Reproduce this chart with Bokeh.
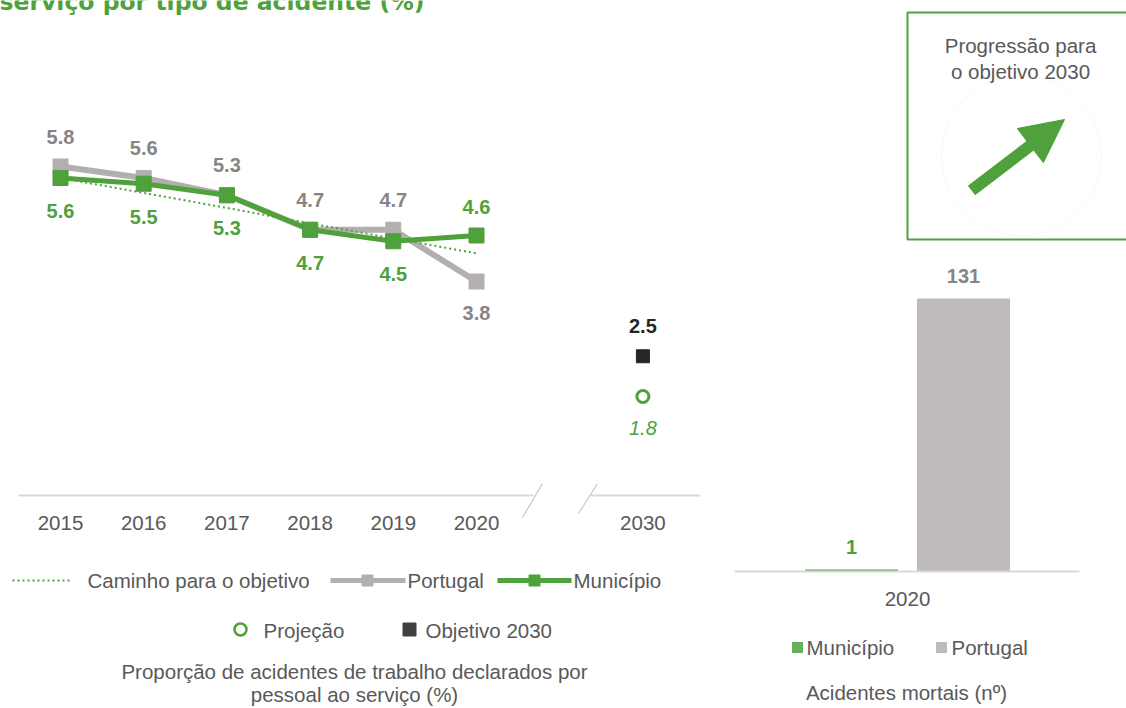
from bokeh.plotting import figure
from bokeh.models import Range1d, Arrow, NormalHead
from bokeh.core.properties import value
from bokeh.embed import file_html
from bokeh.resources import INLINE

# ---------------- data ----------------
years = ["2015", "2016", "2017", "2018", "2019", "2020"]
portugal = [5.8, 5.6, 5.3, 4.7, 4.7, 3.8]
municipio = [5.6, 5.5, 5.3, 4.7, 4.5, 4.6]
caminho = [5.6, 5.34, 5.08, 4.81, 4.55, 4.29]
target_year = "2030"
objetivo_2030 = 2.5
projecao_2030 = 1.8

bar_year = "2020"
bar_categories = ["Município", "Portugal"]
mortais = [1, 131]

title_text = "serviço por tipo de acidente (%)"

# ---------------- layout constants ----------------
W, H = 1126, 708
OX, OY = 0, 0
FONT = value("Liberation Sans")
GREEN = "#4ea13b"
GRAY_LINE = "#b3afae"
TXT = "#595959"
FS = "20.5px"
FSB = "20px"

p = figure(width=W, height=H, output_backend="svg", toolbar_location=None,
           x_range=Range1d(OX, OX + W), y_range=Range1d(OY + H, OY),
           min_border=0)
p.axis.visible = False
p.grid.visible = False
p.outline_line_color = None
p.background_fill_color = "white"
p.border_fill_color = "white"

# line chart scales (index -> px, value -> px)
LX0, LDX = 60, 83.2
LY0, LV0, LK = 166, 5.8, 57.5
def lv(img_y):
    return LV0 - (img_y - LY0) / LK
p.extra_x_ranges["lx"] = Range1d((OX - LX0) / LDX, (OX + W - LX0) / LDX)
p.extra_y_ranges["ly"] = Range1d(lv(OY + H), lv(OY))

# bar chart scales
BX0, BDX = 851, 112
BY0, BK = 571, 2.084
p.extra_x_ranges["bx"] = Range1d((OX - BX0) / BDX, (OX + W - BX0) / BDX)
p.extra_y_ranges["by"] = Range1d((BY0 - (OY + H)) / BK, (BY0 - OY) / BK)

idx = list(range(len(years)))
t_idx = len(years) + 1

# ---------------- title (cropped at the top, as in the source) ----------------
p.text(x=[-1], y=[1], text=[title_text], text_font=value("DejaVu Sans"),
       text_font_style="bold", text_font_size="23.5px", text_color=GREEN,
       text_baseline="alphabetic", text_align="left")

# ---------------- axis line with break ----------------
p.line(x=[18, 533], y=[495, 495], line_color="#d9d9d9", line_width=2)
p.line(x=[590, 700], y=[495, 495], line_color="#d9d9d9", line_width=2)
p.line(x=[542, 522], y=[483, 517], line_color="#c8c8c8", line_width=1.2)
p.line(x=[597, 578], y=[483, 513], line_color="#c8c8c8", line_width=1.2)

p.text(x=idx + [t_idx], y=[522] * (len(years) + 1), text=years + [target_year],
       x_range_name="lx", text_align="center", text_baseline="middle",
       text_font=FONT, text_font_size=FS, text_color=TXT)

# ---------------- lines ----------------
p.line(x=idx, y=portugal, x_range_name="lx", y_range_name="ly",
       line_color=GRAY_LINE, line_width=6)
p.scatter(x=idx, y=portugal, x_range_name="lx", y_range_name="ly",
          marker="square", size=15, fill_color=GRAY_LINE, line_color=GRAY_LINE)
p.line(x=idx, y=caminho, x_range_name="lx", y_range_name="ly",
       line_color=GREEN, line_width=2, line_dash="2 3")
p.line(x=idx, y=municipio, x_range_name="lx", y_range_name="ly",
       line_color=GREEN, line_width=5)
p.scatter(x=idx, y=municipio, x_range_name="lx", y_range_name="ly",
          marker="square", size=15, fill_color=GREEN, line_color=GREEN)

# 2030 markers
p.scatter(x=[t_idx], y=[objetivo_2030], x_range_name="lx", y_range_name="ly",
          marker="square", size=13, fill_color="#262626", line_color="#262626")
p.scatter(x=[t_idx], y=[projecao_2030], x_range_name="lx", y_range_name="ly",
          marker="circle", size=12, fill_color="white", line_color=GREEN, line_width=3)

# data labels
pt_off = [-30 if a >= b else 31 for a, b in zip(portugal, municipio)]
mu_off = [33 if a >= b else -29 for a, b in zip(portugal, municipio)]
p.text(x=idx, y=portugal, text=[f"{v:.1f}" for v in portugal],
       x_range_name="lx", y_range_name="ly", y_offset=pt_off,
       text_align="center", text_baseline="middle", text_font=FONT,
       text_font_style="bold", text_font_size=FSB, text_color="#858585")
p.text(x=idx, y=municipio, text=[f"{v:.1f}" for v in municipio],
       x_range_name="lx", y_range_name="ly", y_offset=mu_off,
       text_align="center", text_baseline="middle", text_font=FONT,
       text_font_style="bold", text_font_size=FSB, text_color=GREEN)
p.text(x=[t_idx], y=[objetivo_2030], text=[f"{objetivo_2030:.1f}"],
       x_range_name="lx", y_range_name="ly", y_offset=-30,
       text_align="center", text_baseline="middle", text_font=FONT,
       text_font_style="bold", text_font_size=FSB, text_color="#262626")
p.text(x=[t_idx], y=[projecao_2030], text=[f"{projecao_2030:.1f}"],
       x_range_name="lx", y_range_name="ly", y_offset=31,
       text_align="center", text_baseline="middle", text_font=FONT,
       text_font_style="italic", text_font_size=FSB, text_color=GREEN)

# ---------------- left legend ----------------
p.line(x=[12, 72], y=[580, 580], line_color=GREEN, line_width=2, line_dash="2 3")
p.line(x=[330, 405], y=[580, 580], line_color=GRAY_LINE, line_width=5)
p.scatter(x=[367], y=[580], marker="square", size=11, fill_color=GRAY_LINE, line_color=GRAY_LINE)
p.line(x=[497, 571], y=[580, 580], line_color=GREEN, line_width=5)
p.scatter(x=[534], y=[580], marker="square", size=11, fill_color=GREEN, line_color=GREEN)
p.text(x=[87, 407, 573], y=[580, 580, 580],
       text=["Caminho para o objetivo", "Portugal", "Município"],
       text_align="left", text_baseline="middle", text_font=FONT,
       text_font_size=FS, text_color=TXT)
p.scatter(x=[240], y=[629], marker="circle", size=12, fill_color="white",
          line_color=GREEN, line_width=2.5)
p.scatter(x=[409], y=[629], marker="square", size=13, fill_color="#404040",
          line_color="#404040")
p.text(x=[263, 425], y=[630, 630], text=["Projeção", "Objetivo 2030"],
       text_align="left", text_baseline="middle", text_font=FONT,
       text_font_size=FS, text_color=TXT)
p.text(x=[354, 354], y=[671, 694],
       text=["Proporção de acidentes de trabalho declarados por", "pessoal ao serviço (%)"],
       text_align="center", text_baseline="middle", text_font=FONT,
       text_font_size=FS, text_color=TXT)

# ---------------- progress box ----------------
p.scatter(x=[1021], y=[155], marker="circle", size=160, fill_color=None,
          line_color="#f8f8f8", line_width=1)
p.quad(left=[907], right=[1140], top=[12], bottom=[239], fill_color=None,
       line_color=GREEN, line_width=2)
p.text(x=[1020, 1020], y=[45, 71], text=["Progressão para", "o objetivo 2030"],
       text_align="center", text_baseline="middle", text_font=FONT,
       text_font_size=FS, text_color=TXT)
p.add_layout(Arrow(end=NormalHead(size=43, fill_color=GREEN, line_color=GREEN),
                   x_start=971, y_start=190, x_end=1064, y_end=119,
                   line_color=GREEN, line_width=12))

# ---------------- bar chart ----------------
bx = list(range(len(bar_categories)))
p.vbar(x=bx, top=mortais, bottom=0, width=0.83, x_range_name="bx", y_range_name="by",
       fill_color=["#5aa646", "#bfbbba"], line_color=None)
p.line(x=[734, 1079], y=[571, 571], line_color="#d9d9d9", line_width=2)
p.text(x=bx, y=mortais, text=[str(v) for v in mortais], x_range_name="bx",
       y_range_name="by", y_offset=-22, text_align="center", text_baseline="middle",
       text_font=FONT, text_font_style="bold", text_font_size=FSB,
       text_color=[GREEN, "#858585"])
p.text(x=[0.5], y=[598], text=[bar_year], x_range_name="bx", text_align="center",
       text_baseline="middle", text_font=FONT, text_font_size=FS, text_color=TXT)
p.scatter(x=[797, 941], y=[647, 647], marker="square", size=11,
          fill_color=["#6aaf5a", "#bfbbba"], line_color=None)
p.text(x=[806, 951], y=[647, 647], text=bar_categories, text_align="left",
       text_baseline="middle", text_font=FONT, text_font_size=FS, text_color=TXT)
p.text(x=[906], y=[692], text=["Acidentes mortais (nº)"], text_align="center",
       text_baseline="middle", text_font=FONT, text_font_size=FS, text_color=TXT)

open("out.html", "w").write(file_html(p, INLINE))
